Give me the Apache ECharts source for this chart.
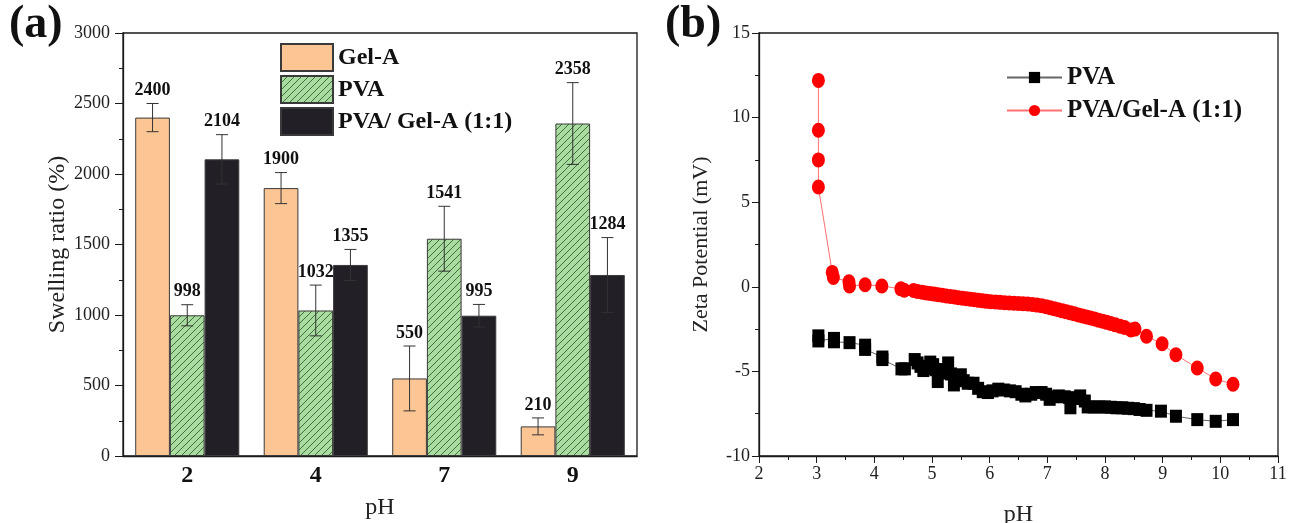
<!DOCTYPE html>
<html>
<head>
<meta charset="utf-8">
<script src="https://cdn.jsdelivr.net/npm/echarts@6/dist/echarts.min.js"></script>
<style>
  html, body { margin: 0; padding: 0; background: #fff; }
  #chart { width: 1294px; height: 523px; }
</style>
</head>
<body>
<div id="chart"></div>
<script>
// ---- (a) swelling ratio by pH ----
const phCategories = ['2', '4', '7', '9'];
const gelA      = [2400, 1900, 550, 210];
const gelAErr   = [100, 110, 230, 60];
const pvaBar    = [998, 1032, 1541, 2358];
const pvaBarErr = [75, 180, 230, 290];
const blend     = [2104, 1355, 995, 1284];
const blendErr  = [175, 110, 80, 265];
const swellTicks = [0, 500, 1000, 1500, 2000, 2500, 3000];

// ---- (b) zeta potential vs pH ----
const pvaZeta = [
  [3.03, -2.9], [3.03, -3.2], [3.3, -3.05], [3.3, -3.25], [3.57, -3.3], [3.84, -3.45],
  [3.84, -3.7], [4.14, -4.15], [4.14, -4.3], [4.47, -4.85], [4.53, -4.85], [4.7, -4.3],
  [4.75, -4.5], [4.8, -4.7], [4.85, -4.95], [4.92, -4.85], [4.97, -4.45], [5.02, -4.6],
  [5.07, -4.9], [5.1, -5.6], [5.15, -5.1], [5.2, -4.9], [5.28, -4.5], [5.33, -5.15],
  [5.38, -5.8], [5.43, -5.3], [5.5, -5.2], [5.55, -5.55], [5.62, -5.7], [5.72, -5.7],
  [5.8, -6.0], [5.88, -6.2], [5.97, -6.25], [6.05, -6.15], [6.15, -6.05], [6.25, -6.1],
  [6.35, -6.15], [6.45, -6.2], [6.55, -6.35], [6.62, -6.45], [6.72, -6.35], [6.8, -6.25],
  [6.9, -6.25], [6.98, -6.35], [7.04, -6.65], [7.1, -6.5], [7.2, -6.45], [7.3, -6.5],
  [7.38, -6.55], [7.4, -7.15], [7.48, -6.6], [7.57, -6.45], [7.65, -6.75], [7.7, -7.1],
  [7.8, -7.1], [7.9, -7.1], [8.0, -7.1], [8.1, -7.12], [8.2, -7.15], [8.3, -7.15],
  [8.4, -7.18], [8.5, -7.2], [8.6, -7.25], [8.72, -7.3], [8.97, -7.35], [9.23, -7.65],
  [9.6, -7.85], [9.92, -7.95], [10.22, -7.85]
];
const blendZeta = [
  [3.03, 12.2], [3.03, 9.25], [3.03, 7.5], [3.03, 5.9], [3.27, 0.85], [3.29, 0.55],
  [3.56, 0.3], [3.57, 0.05], [3.84, 0.12], [4.13, 0.05], [4.46, -0.12], [4.52, -0.2],
  [4.68, -0.22], [4.75, -0.28], [4.83, -0.32], [4.9, -0.36], [4.97, -0.4], [5.04, -0.43],
  [5.11, -0.47], [5.18, -0.5], [5.25, -0.54], [5.32, -0.57], [5.39, -0.6], [5.46, -0.64],
  [5.53, -0.67], [5.6, -0.7], [5.67, -0.73], [5.74, -0.76], [5.81, -0.8], [5.88, -0.83],
  [5.95, -0.86], [6.02, -0.88], [6.1, -0.9], [6.18, -0.92], [6.26, -0.94], [6.34, -0.96],
  [6.42, -0.97], [6.5, -0.98], [6.58, -1.0], [6.66, -1.02], [6.74, -1.05], [6.82, -1.08],
  [6.9, -1.12], [6.98, -1.18], [7.05, -1.24], [7.12, -1.3], [7.19, -1.36], [7.26, -1.42],
  [7.33, -1.48], [7.4, -1.54], [7.47, -1.6], [7.54, -1.66], [7.61, -1.72], [7.68, -1.78],
  [7.75, -1.84], [7.82, -1.9], [7.89, -1.97], [7.96, -2.04], [8.03, -2.1], [8.1, -2.17],
  [8.18, -2.25], [8.26, -2.33], [8.34, -2.4], [8.45, -2.55], [8.52, -2.5], [8.72, -2.92],
  [8.99, -3.37], [9.23, -4.02], [9.6, -4.8], [9.92, -5.45], [10.22, -5.76]
];

const SERIF = '"Liberation Serif", "Times New Roman", serif';
const AXIS_COLOR = '#1a1a1a';

// diagonal hatch fill for the PVA bars
function hatchPattern() {
  const s = 7;
  const c = document.createElement('canvas');
  c.width = s; c.height = s;
  const g = c.getContext('2d');
  g.fillStyle = '#a9dc9f';
  g.fillRect(0, 0, s, s);
  g.strokeStyle = '#3b5f3a';
  g.lineWidth = 0.9;
  g.beginPath();
  g.moveTo(-1, s + 1); g.lineTo(s + 1, -1);
  g.moveTo(-1, 1); g.lineTo(1, -1);
  g.moveTo(s - 1, s + 1); g.lineTo(s + 1, s - 1);
  g.stroke();
  return { image: c, repeat: 'repeat' };
}

const BAR_W = 0.27; // fraction of a category band per bar

// error bar with cap plus value text above it
function errorSeries(values, errs, slot) {
  return {
    type: 'custom',
    xAxisIndex: 0, yAxisIndex: 0,
    silent: true,
    z: 5,
    data: values.map((v, i) => [i, v, errs[i]]),
    encode: { x: 0, y: 1 },
    renderItem: function (params, api) {
      const idx = api.value(0);
      const v = api.value(1);
      const e = api.value(2);
      const band = api.size([1, 0])[0];
      const center = api.coord([idx, v]);
      const x = center[0] + slot * BAR_W * band;
      const top = api.coord([idx, v + e])[1];
      const bot = api.coord([idx, v - e])[1];
      const cap = 6;
      const st = { stroke: '#333', lineWidth: 1 };
      return {
        type: 'group',
        children: [
          { type: 'line', shape: { x1: x, y1: top, x2: x, y2: bot }, style: st },
          { type: 'line', shape: { x1: x - cap, y1: top, x2: x + cap, y2: top }, style: st },
          { type: 'line', shape: { x1: x - cap, y1: bot, x2: x + cap, y2: bot }, style: st },
          {
            type: 'text',
            style: {
              text: String(v), x: x, y: top - 4,
              align: 'center', verticalAlign: 'bottom',
              font: 'bold 18px ' + SERIF, fill: '#111'
            }
          }
        ]
      };
    }
  };
}

const chart = echarts.init(document.getElementById('chart'), null, { renderer: 'canvas' });

const option = {
  animation: false,
  backgroundColor: '#fff',
  textStyle: { fontFamily: SERIF },
  graphic: [
    { type: 'text', left: 9, top: 2, style: { text: '(a)', font: 'bold 46px ' + SERIF, fill: '#111' } },
    { type: 'text', left: 665, top: 2, style: { text: '(b)', font: 'bold 46px ' + SERIF, fill: '#111' } }
  ],
  grid: [
    { left: 123, top: 33, right: 657, bottom: 67, outerBoundsMode: 'none', containLabel: false,
      show: true, borderColor: AXIS_COLOR, borderWidth: 1.3, backgroundColor: 'transparent' },
    { left: 759, top: 33, right: 16, bottom: 67, outerBoundsMode: 'none', containLabel: false,
      show: true, borderColor: AXIS_COLOR, borderWidth: 1.3, backgroundColor: 'transparent' }
  ],
  legend: [
    {
      data: ['Gel-A', 'PVA ', 'PVA/ Gel-A (1:1)'],
      orient: 'vertical', left: 280, top: 43, padding: 0,
      itemWidth: 52, itemHeight: 27, itemGap: 3,
      selectedMode: false, icon: 'rect',
      textStyle: { fontFamily: SERIF, fontWeight: 'bold', fontSize: 24, color: '#111', padding: [0, 0, 0, 0] }
    },
    {
      data: ['PVA', 'PVA/Gel-A (1:1)'],
      orient: 'vertical', left: 1006, top: 65, padding: 0,
      itemWidth: 55, itemHeight: 14, itemGap: 8,
      selectedMode: false,
      textStyle: { fontFamily: SERIF, fontWeight: 'bold', fontSize: 25, color: '#111', padding: [0, 0, 0, 0] }
    }
  ],
  xAxis: [
    {
      gridIndex: 0, type: 'category', data: phCategories,
      name: 'pH', nameLocation: 'middle', nameGap: 40,
      nameTextStyle: { fontFamily: SERIF, fontSize: 24, color: '#222' },
      axisLine: { lineStyle: { color: AXIS_COLOR, width: 1.3 } },
      axisTick: { alignWithLabel: true, length: 7, lineStyle: { color: AXIS_COLOR } },
      axisLabel: { fontFamily: SERIF, fontWeight: 'bold', fontSize: 24, color: '#111', margin: 8 },
      splitLine: { show: false }
    },
    {
      gridIndex: 0, type: 'category', data: phCategories, position: 'bottom',
      axisLine: { show: false },
      axisTick: { length: 4, lineStyle: { color: AXIS_COLOR } },
      axisLabel: { show: false },
      splitLine: { show: false }
    },
    {
      gridIndex: 1, type: 'value', min: 2, max: 11, interval: 1,
      name: 'pH', nameLocation: 'middle', nameGap: 47,
      nameTextStyle: { fontFamily: SERIF, fontSize: 24, color: '#222' },
      axisLine: { onZero: false, lineStyle: { color: AXIS_COLOR, width: 1.3 } },
      axisTick: { length: 7, lineStyle: { color: AXIS_COLOR } },
      minorTick: { show: true, splitNumber: 2, length: 4, lineStyle: { color: AXIS_COLOR } },
      axisLabel: { fontFamily: SERIF, fontSize: 18, color: '#222', margin: 9 },
      splitLine: { show: false }, minorSplitLine: { show: false }
    }
  ],
  yAxis: [
    {
      gridIndex: 0, type: 'value', min: swellTicks[0], max: swellTicks[swellTicks.length - 1], interval: 500,
      name: 'Swelling ratio (%)', nameLocation: 'middle', nameGap: 50,
      nameTextStyle: { fontFamily: SERIF, fontSize: 24, color: '#222' },
      axisLine: { show: true, lineStyle: { color: AXIS_COLOR, width: 1.3 } },
      axisTick: { show: true, length: 8, lineStyle: { color: AXIS_COLOR } },
      minorTick: { show: true, splitNumber: 2, length: 4, lineStyle: { color: AXIS_COLOR } },
      axisLabel: { fontFamily: SERIF, fontSize: 18, color: '#222', margin: 13, formatter: v => String(v) },
      splitLine: { show: false }, minorSplitLine: { show: false }
    },
    {
      gridIndex: 1, type: 'value', min: -10, max: 15, interval: 5,
      name: 'Zeta Potential (mV)', nameLocation: 'middle', nameGap: 47,
      nameTextStyle: { fontFamily: SERIF, fontSize: 22, color: '#222' },
      axisLine: { show: true, onZero: false, lineStyle: { color: AXIS_COLOR, width: 1.3 } },
      axisTick: { show: true, length: 7, lineStyle: { color: AXIS_COLOR } },
      minorTick: { show: true, splitNumber: 2, length: 4, lineStyle: { color: AXIS_COLOR } },
      axisLabel: { fontFamily: SERIF, fontSize: 18, color: '#222', margin: 9 },
      splitLine: { show: false }, minorSplitLine: { show: false }
    }
  ],
  series: [
    {
      name: 'Gel-A', type: 'bar', xAxisIndex: 0, yAxisIndex: 0,
      data: gelA, barWidth: (BAR_W * 100) + '%', barGap: '0%',
      itemStyle: { color: '#fcc594', borderColor: '#3a3a3a', borderWidth: 1 }
    },
    {
      name: 'PVA ', type: 'bar', xAxisIndex: 0, yAxisIndex: 0,
      data: pvaBar, barWidth: (BAR_W * 100) + '%', barGap: '0%',
      itemStyle: { color: hatchPattern(), borderColor: '#3a3a3a', borderWidth: 1 }
    },
    {
      name: 'PVA/ Gel-A (1:1)', type: 'bar', xAxisIndex: 0, yAxisIndex: 0,
      data: blend, barWidth: (BAR_W * 100) + '%', barGap: '0%',
      itemStyle: { color: '#231f27', borderColor: '#3a3a3a', borderWidth: 1 }
    },
    errorSeries(gelA, gelAErr, -1),
    errorSeries(pvaBar, pvaBarErr, 0),
    errorSeries(blend, blendErr, 1),
    {
      name: 'PVA', type: 'line', xAxisIndex: 2, yAxisIndex: 1,
      data: pvaZeta, symbol: 'rect', symbolSize: [12, 13],
      itemStyle: { color: '#000' },
      lineStyle: { color: '#666', width: 1 }
    },
    {
      name: 'PVA/Gel-A (1:1)', type: 'line', xAxisIndex: 2, yAxisIndex: 1,
      data: blendZeta, symbol: 'circle', symbolSize: [13, 15],
      itemStyle: { color: '#ff0000' },
      lineStyle: { color: '#ff7070', width: 1 }
    }
  ]
};

chart.setOption(option);
</script>
</body>
</html>
